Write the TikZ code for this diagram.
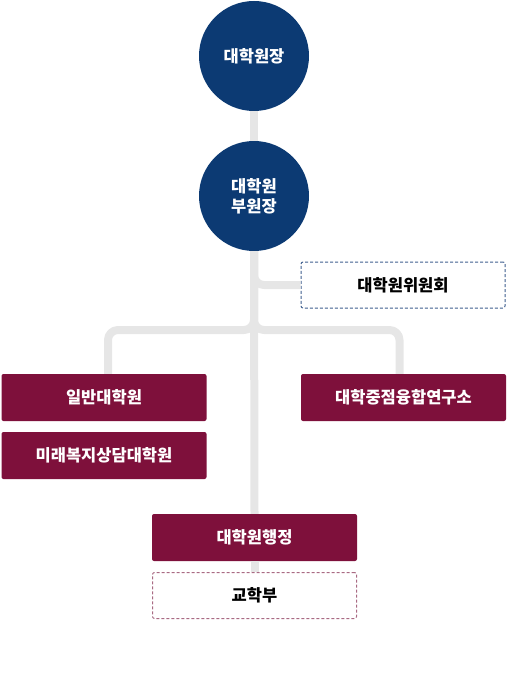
\documentclass[tikz,border=0pt]{standalone}
\usepackage{fontspec}
\setmainfont{Noto Sans CJK KR}
\definecolor{navy}{HTML}{0C3A73}
\definecolor{maroon}{HTML}{7E103B}
\definecolor{linegray}{HTML}{E6E6E6}
\definecolor{dashblue}{HTML}{3F5F8F}
\definecolor{dashpink}{HTML}{A96A83}
\begin{document}
\begin{tikzpicture}[x=1pt,y=-1pt,line join=round,
	font=\fontsize{16.5}{20}\selectfont\bfseries,
	head/.style={circle,fill=navy,text=white,minimum size=110pt,inner sep=0pt,align=center},
	unit/.style={rectangle,rounded corners=2pt,fill=maroon,text=white,minimum width=205pt,minimum height=47pt,inner sep=0pt},
	side/.style={rectangle,rounded corners=2pt,draw=#1,line width=1pt,dash pattern=on 3pt off 2pt,fill=white,text=black,minimum width=204pt,minimum height=46pt,inner sep=0pt},
	link/.style={draw=linegray,line width=8pt,rounded corners=10pt}]
	\useasboundingbox (0,0) rectangle (507,700);
	% Đầu
	\node[head] (dean) at (254,56) {대학원장};
	\node[head] (vice) at (254,196) {대학원\\부원장};
	\node[side=dashblue] (comm) at (403,285) {대학원위원회};
	% Hàng dưới
	\node[unit] (grad) at (104,397.5) {일반대학원};
	\node[unit] (welf) at (104,455.5) {미래복지상담대학원};
	\node[unit] (inst) at (403.5,397.5) {대학중점융합연구소};
	\node[unit] (admin) at (254.5,537.5) {대학원행정};
	\node[side=dashpink] (acad) at (254.5,595.5) {교학부};
	% Đường nối
	\draw[link] (dean) -- (vice);
	\draw[link] (vice.south) -- (admin.north);
	\draw[link] (vice.south) |- (comm.west);
	\draw[link] (vice.south) -- (254,330) -| ([xshift=4pt]grad.north);
	\draw[link] (vice.south) -- (254,330) -| ([xshift=-4pt]inst.north);
	\draw[link] (admin) -- (acad);
\end{tikzpicture}
\end{document}
